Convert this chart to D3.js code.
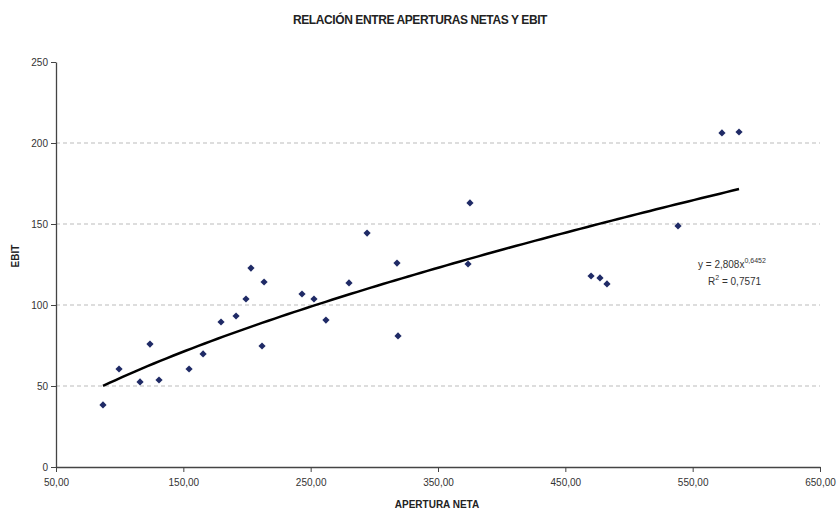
<!DOCTYPE html>
<html><head><meta charset="utf-8">
<script src="https://cdn.jsdelivr.net/npm/d3@7"></script>
<style>body{margin:0;background:#fff}svg{display:block}text{font-family:"Liberation Sans",Arial,sans-serif}</style>
</head><body><svg id="c" width="839" height="511"></svg>
<script>
const aperturaNeta = [86.9,99.5,116,123.8,130.9,154.5,165.5,179.6,191.4,199.2,203.1,211.8,213.4,243.2,252.6,262,280.1,294.3,317.8,318.6,373.6,375.1,470.2,477.2,482.7,538.5,573,586.4];
const ebit = [38.3,60.5,52.5,75.9,53.7,60.5,69.8,89.5,93.2,103.7,122.8,74.7,114.2,106.8,103.7,90.7,113.6,144.4,125.9,80.9,125.3,163,117.9,116.7,113,148.8,206.2,206.8];
const xTicks = [50,150,250,350,450,550,650];
const yTicks = [0,50,100,150,200,250];
const trendA = 2.808, trendB = 0.6452, r2 = "0,7571";

const svg = d3.select("#c");
const x = d3.scaleLinear().domain([50,650]).range([56,820]);
const y = d3.scaleLinear().domain([0,250]).range([467,62]);
const fmtX = v => d3.format(".2f")(v).replace(".", ",");

svg.append("g").selectAll("line").data(yTicks.filter(t => t>0 && t<250)).join("line")
  .attr("x1", x(50)).attr("x2", x(650)).attr("y1", d=>y(d)).attr("y2", d=>y(d))
  .attr("stroke","#bbb").attr("stroke-dasharray","4,3").attr("stroke-width",1);

const xa = svg.append("g").attr("transform",`translate(0,${y(0)})`)
  .call(d3.axisBottom(x).tickValues(xTicks).tickFormat(fmtX).tickSize(5).tickSizeOuter(0));
const ya = svg.append("g").attr("transform",`translate(${x(50)},0)`)
  .call(d3.axisLeft(y).tickValues(yTicks).tickSize(5).tickSizeOuter(0));
[xa,ya].forEach(a=>{
  a.select(".domain").attr("stroke","#444").attr("stroke-width",1.3);
  a.selectAll(".tick line").attr("stroke","#444");
  a.selectAll("text").attr("font-size",10).attr("fill","#333").attr("font-family","Liberation Sans, Arial, sans-serif");
});
xa.selectAll("text").attr("dy","1.1em");

const xs = d3.range(d3.min(aperturaNeta), d3.max(aperturaNeta)+0.01, (d3.max(aperturaNeta)-d3.min(aperturaNeta))/100);
svg.append("path").datum(xs)
  .attr("d", d3.line().x(d=>x(d)).y(d=>y(trendA*Math.pow(d,trendB))))
  .attr("fill","none").attr("stroke","#000").attr("stroke-width",2.5);

svg.append("g").selectAll("path").data(aperturaNeta).join("path")
  .attr("d", "M0,-3.6L3.6,0L0,3.6L-3.6,0Z")
  .attr("transform",(d,i)=>`translate(${x(d)},${y(ebit[i])})`)
  .attr("fill","#1f2a66");

svg.append("text").attr("x",420).attr("y",24).attr("text-anchor","middle")
  .attr("font-size",12).attr("font-weight","bold").attr("fill","#222").attr("letter-spacing","-0.4")
  .text("RELACIÓN ENTRE APERTURAS NETAS Y EBIT");
svg.append("text").attr("x",437).attr("y",508).attr("text-anchor","middle")
  .attr("font-size",10).attr("font-weight","bold").attr("fill","#222")
  .text("APERTURA NETA");
svg.append("text").attr("transform","translate(19,256) rotate(-90)").attr("text-anchor","middle")
  .attr("font-size",10).attr("font-weight","bold").attr("fill","#222").text("EBIT");

const eq = svg.append("text").attr("x",698).attr("y",268).attr("font-size",10).attr("fill","#333");
eq.append("tspan").text("y = " + String(trendA).replace(".",",") + "x");
eq.append("tspan").attr("dy",-5).attr("font-size",7).text(String(trendB).replace(".",","));
const eq2 = svg.append("text").attr("x",708).attr("y",285).attr("font-size",10).attr("fill","#333");
eq2.append("tspan").text("R");
eq2.append("tspan").attr("dy",-5).attr("font-size",7).text("2");
eq2.append("tspan").attr("dy",5).text(" = " + r2);
</script></body></html>
